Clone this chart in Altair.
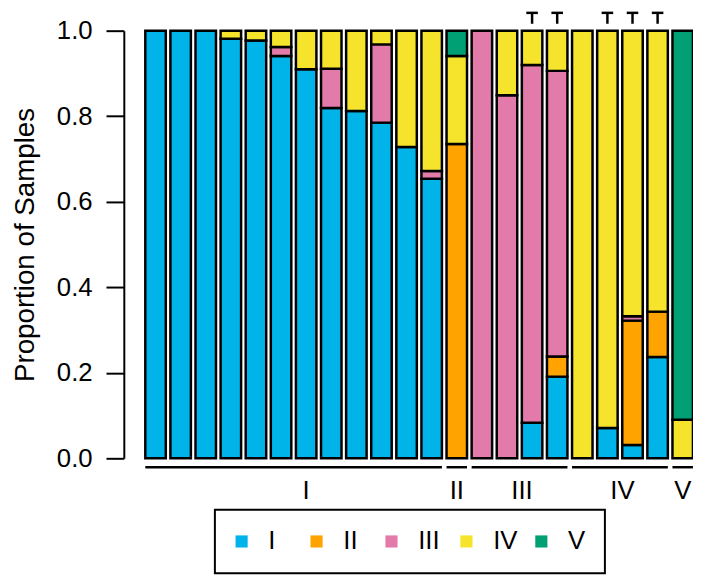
import altair as alt
import pandas as pd

classes = ["I", "II", "III", "IV", "V"]
colors = ["#00B4E9", "#FFA300", "#E27BA9", "#F5E42B", "#00A074"]

# proportions per bar (22 bars), bottom-to-top stack order I..V
p_I = [1.0, 1.0, 1.0, 0.981, 0.977, 0.941, 0.910, 0.819, 0.812, 0.785, 0.728, 0.654,
       0.0, 0.0, 0.0, 0.083, 0.191, 0.0, 0.071, 0.031, 0.237, 0.0]
p_II = [0.0] * 12 + [0.735, 0.0, 0.0, 0.0, 0.047, 0.0, 0.0, 0.291, 0.106, 0.0]
p_III = [0.0, 0.0, 0.0, 0.0, 0.0, 0.021, 0.0, 0.092, 0.0, 0.183, 0.0, 0.018,
         0.0, 1.0, 0.849, 0.837, 0.668, 0.0, 0.0, 0.010, 0.0, 0.0]
p_IV = [0.0, 0.0, 0.0, 0.019, 0.023, 0.038, 0.090, 0.089, 0.188, 0.032, 0.272, 0.328,
        0.206, 0.0, 0.151, 0.080, 0.094, 1.0, 0.929, 0.668, 0.657, 0.090]
p_V = [0.0] * 12 + [0.059] + [0.0] * 8 + [0.910]

group_names = ["I", "II", "III", "IV", "V"]
group_sizes = [12, 1, 4, 4, 1]
group_label_at = [6.0, 12.0, 14.6, 18.6, 21.0]
marked_bars = [15, 16, 18, 19, 20]

series = [p_I, p_II, p_III, p_IV, p_V]
n = len(p_I)
half = 0.408

rows = []
for i in range(n):
    base = 0.0
    for k, cls in enumerate(classes):
        v = series[k][i]
        if v > 0:
            rows.append(dict(bar=i, cls=cls, x0=i + 0.5 - half, x1=i + 0.5 + half,
                             y0=base, y1=min(base + v, 1.0)))
            base += v
df = pd.DataFrame(rows)

grows = []
start = 0
for name, size, lab in zip(group_names, group_sizes, group_label_at):
    grows.append(dict(name=name, gx0=start + 0.5 - half, gx1=start + size - 1 + 0.5 + half,
                      lx=lab + 0.5))
    start += size
gdf = pd.DataFrame(grows)

mdf = pd.DataFrame(dict(cx=[m + 0.5 for m in marked_bars],
                        cl=[m + 0.5 - 0.23 for m in marked_bars],
                        cr=[m + 0.5 + 0.23 for m in marked_bars]))

FONT = "Liberation Sans"
xs = alt.Scale(domain=[-0.764, 21.91], nice=False, zero=False)
ys = alt.Scale(domain=[0, 1], nice=False)

bars = alt.Chart(df).mark_bar(stroke="black", strokeWidth=2.5, opacity=1).encode(
    x=alt.X("x0:Q", scale=xs, axis=None),
    x2="x1",
    y=alt.Y("y0:Q", scale=ys, title="Proportion of Samples",
            axis=alt.Axis(values=[0, 0.2, 0.4, 0.6, 0.8, 1.0], format=".1f",
                          labelFontSize=26, labelFont=FONT, labelColor="black",
                          tickSize=18, tickWidth=2, tickColor="black",
                          domainColor="black", domainWidth=2, grid=False,
                          labelPadding=14, titleFontSize=28, titleFont=FONT,
                          titleFontWeight="normal", titleColor="black",
                          titleX=-91, titleY=216, titleAngle=270,
                          titleAlign="center", titleBaseline="alphabetic")),
    y2="y1",
    color=alt.Color("cls:N", scale=alt.Scale(domain=classes, range=colors),
                    legend=alt.Legend(orient="none", legendX=92, legendY=484,
                                      direction="horizontal", title=None,
                                      symbolType="square", symbolSize=150,
                                      symbolStrokeWidth=0, symbolOpacity=1,
                                      symbolOffset=-5,
                                      labelFontSize=26, labelFont=FONT,
                                      labelColor="black", labelOffset=14,
                                      columnPadding=15.7, padding=19,
                                      gridAlign="all", strokeColor="black")),
)

grules = alt.Chart(gdf).mark_rule(color="black", strokeWidth=2.5).encode(
    x=alt.X("gx0:Q", scale=xs), x2="gx1", y=alt.value(441))

glabels = alt.Chart(gdf).mark_text(fontSize=26, font=FONT, color="black",
                                   baseline="middle").encode(
    x=alt.X("lx:Q", scale=xs), y=alt.value(465), text="name:N")

stems = alt.Chart(mdf).mark_rule(color="black", strokeWidth=2.5).encode(
    x=alt.X("cx:Q", scale=xs), y=alt.value(-18), y2=alt.value(-7))
caps = alt.Chart(mdf).mark_rule(color="black", strokeWidth=2.5).encode(
    x=alt.X("cl:Q", scale=xs), x2="cr", y=alt.value(-18))

chart = alt.layer(bars, grules, glabels, stems, caps).properties(
    width=575, height=432,
    padding={"left": 117, "top": 20, "right": 0, "bottom": 118},
    autosize=alt.AutoSizeParams(type="none"),
    background="white",
).configure_view(stroke=None).configure_legend(strokeWidth=2)

chart.save("out.html", embed_options={"renderer": "svg", "actions": False})
